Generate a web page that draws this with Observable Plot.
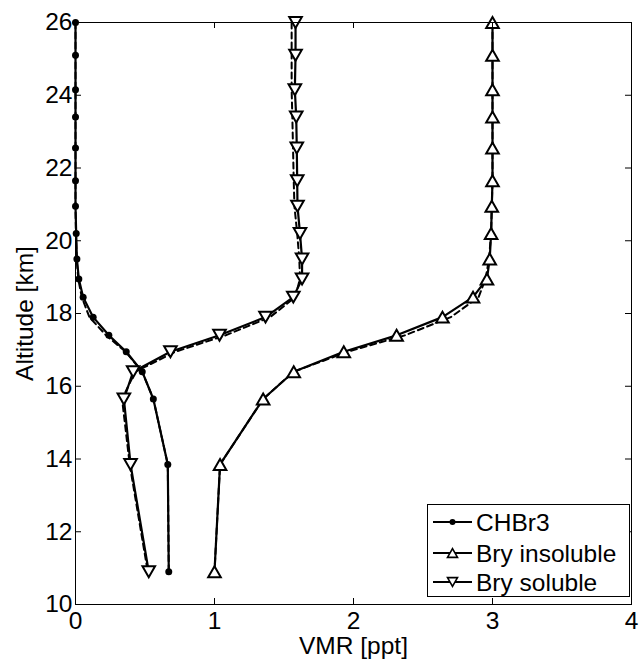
<!DOCTYPE html>
<html><head><meta charset="utf-8">
<script src="https://cdn.jsdelivr.net/npm/d3@7"></script>
<script src="https://cdn.jsdelivr.net/npm/@observablehq/plot@0.6"></script>
<style>
body{margin:0;background:#fff;}
#wrap{position:relative;width:639px;height:661px;font-family:Arial,"Liberation Sans",Helvetica,sans-serif;}
#legend{position:absolute;left:427px;top:504px;}
</style></head><body><div id="wrap"></div>
<script>
// Data
const altitude = [26.0, 25.1, 24.15, 23.4, 22.55, 21.65, 20.95, 20.2, 19.5, 18.95, 18.45, 17.9, 17.4, 16.95, 16.4, 15.65, 13.85, 10.9];
const chbr3      = [0, 0, 0, 0, 0, 0, 0, 0.005, 0.01, 0.024, 0.055, 0.127, 0.24, 0.365, 0.48, 0.56, 0.664, 0.671];
const bryInsol   = [3.0, 3.0, 3.0, 3.0, 3.0, 3.0, 2.995, 2.99, 2.98, 2.96, 2.86, 2.64, 2.31, 1.93, 1.57, 1.35, 1.04, 1.0];
const brySol     = [1.583, 1.583, 1.578, 1.588, 1.592, 1.595, 1.597, 1.615, 1.63, 1.63, 1.567, 1.367, 1.036, 0.683, 0.415, 0.348, 0.396, 0.527];
const chbr3Dash    = [0, 0, 0, 0, 0, 0, 0, 0.003, 0.008, 0.02, 0.045, 0.10, 0.22, 0.36, 0.48, 0.56, 0.664, 0.671];
const bryInsolDash = [3.0, 3.0, 3.0, 3.0, 3.0, 3.0, 2.995, 2.99, 2.975, 2.95, 2.90, 2.70, 2.37, 1.96, 1.57, 1.35, 1.04, 1.0];
const brySolDash   = [1.555, 1.555, 1.555, 1.56, 1.565, 1.57, 1.575, 1.595, 1.61, 1.615, 1.58, 1.40, 1.08, 0.72, 0.43, 0.335, 0.39, 0.52];
const seriesNames = ["CHBr3", "Bry insoluble", "Bry soluble"];
const xTicks = [0, 1, 2, 3, 4];
const yTicks = [10, 12, 14, 16, 18, 20, 22, 24, 26];

const W = 639, H = 661, mL = 75, mR = 8, mT = 22, mB = 57;
const innerW = W - mL - mR, innerH = H - mT - mB;
const FONT = "Arial, 'Liberation Sans', Helvetica, sans-serif";
const FS = 24.5;

function rowsOf(name, vals) { return vals.map((v, i) => ({series: name, v, alt: altitude[i]})); }
const solid = [...rowsOf(seriesNames[0], chbr3), ...rowsOf(seriesNames[1], bryInsol), ...rowsOf(seriesNames[2], brySol)];
const dashed = [...rowsOf(seriesNames[0], chbr3Dash), ...rowsOf(seriesNames[1], bryInsolDash), ...rowsOf(seriesNames[2], brySolDash)];

const triUp = {draw(ctx, size) { const r = Math.sqrt(size / Math.PI); const h = r * 0.866;
  ctx.moveTo(0, -h); ctx.lineTo(r, h); ctx.lineTo(-r, h); ctx.closePath(); }};
const triDown = {draw(ctx, size) { const r = Math.sqrt(size / Math.PI); const h = r * 0.866;
  ctx.moveTo(0, h); ctx.lineTo(r, -h); ctx.lineTo(-r, -h); ctx.closePath(); }};

const chart = Plot.plot({
  width: W, height: H, marginLeft: mL, marginRight: mR, marginTop: mT, marginBottom: mB,
  style: {fontFamily: FONT, fontSize: FS + "px", color: "#000", background: "#fff", overflow: "visible"},
  x: {domain: [0, 4]},
  y: {domain: [10, 26]},
  marks: [
    Plot.line(dashed, {x: "v", y: "alt", z: "series", stroke: "#000", strokeWidth: 2, strokeDasharray: "6,4"}),
    Plot.line(solid, {x: "v", y: "alt", z: "series", stroke: "#000", strokeWidth: 2.2}),
    Plot.dot(rowsOf(seriesNames[0], chbr3), {x: "v", y: "alt", r: 3.5, fill: "#000", stroke: null}),
    Plot.dot(rowsOf(seriesNames[1], bryInsol), {x: "v", y: "alt", r: 6.3, symbol: triUp, fill: "#fff", stroke: "#000", strokeWidth: 2}),
    Plot.dot(rowsOf(seriesNames[2], brySol), {x: "v", y: "alt", r: 6.3, symbol: triDown, fill: "#fff", stroke: "#000", strokeWidth: 2}),
    Plot.frame({stroke: "#000", strokeWidth: 1}),
    Plot.ruleX(xTicks, {x: d => d, insetTop: innerH - 6, stroke: "#000"}),
    Plot.ruleX(xTicks, {x: d => d, insetBottom: innerH - 6, stroke: "#000"}),
    Plot.ruleY(yTicks, {y: d => d, insetRight: innerW - 6, stroke: "#000"}),
    Plot.ruleY(yTicks, {y: d => d, insetLeft: innerW - 6, stroke: "#000"}),
    Plot.axisX({ticks: xTicks, tickSize: 0, tickPadding: 7, label: null, fontSize: FS, tickFormat: d => String(d)}),
    Plot.axisY({ticks: yTicks, tickSize: 0, tickPadding: 3, label: null, fontSize: FS, tickFormat: d => String(d)}),
    Plot.text(["VMR [ppt]"], {text: d => d, frameAnchor: "bottom", textAnchor: "middle", lineAnchor: "middle", dy: 42, fontSize: FS, fill: "#000"}),
    Plot.text(["Altitude [km]"], {text: d => d, frameAnchor: "left", textAnchor: "middle", lineAnchor: "middle", dx: -50, rotate: -90, fontSize: FS, fill: "#000"})
  ]
});
document.getElementById("wrap").appendChild(chart);

// Legend
const lg = d3.select("#wrap").append("svg").attr("id", "legend").attr("width", 204).attr("height", 94);
lg.append("rect").attr("x", 0.5).attr("y", 0.5).attr("width", 202).attr("height", 92).attr("fill", "#fff").attr("stroke", "#000");
const rowY = [18, 49, 78];
seriesNames.forEach((name, i) => {
  const g = lg.append("g").attr("transform", `translate(0,${rowY[i]})`);
  g.append("line").attr("x1", 6).attr("x2", 45).attr("y1", 0).attr("y2", 0).attr("stroke", "#000").attr("stroke-width", 2);
  const cx = 25.5;
  if (i === 0) g.append("circle").attr("cx", cx).attr("cy", 0).attr("r", 3).attr("fill", "#000");
  else {
    const r = 5, h = r * 0.866;
    const pts = i === 1 ? [[cx, -h], [cx + r, h], [cx - r, h]] : [[cx, h], [cx + r, -h], [cx - r, -h]];
    g.append("polygon").attr("points", pts.map(p => p.join(",")).join(" ")).attr("fill", "#fff").attr("stroke", "#000").attr("stroke-width", 1.6);
  }
  g.append("text").attr("x", 49).attr("y", 0).attr("dy", "0.35em").attr("font-family", FONT).attr("font-size", FS).attr("fill", "#000").text(name);
});
</script>
</body></html>
